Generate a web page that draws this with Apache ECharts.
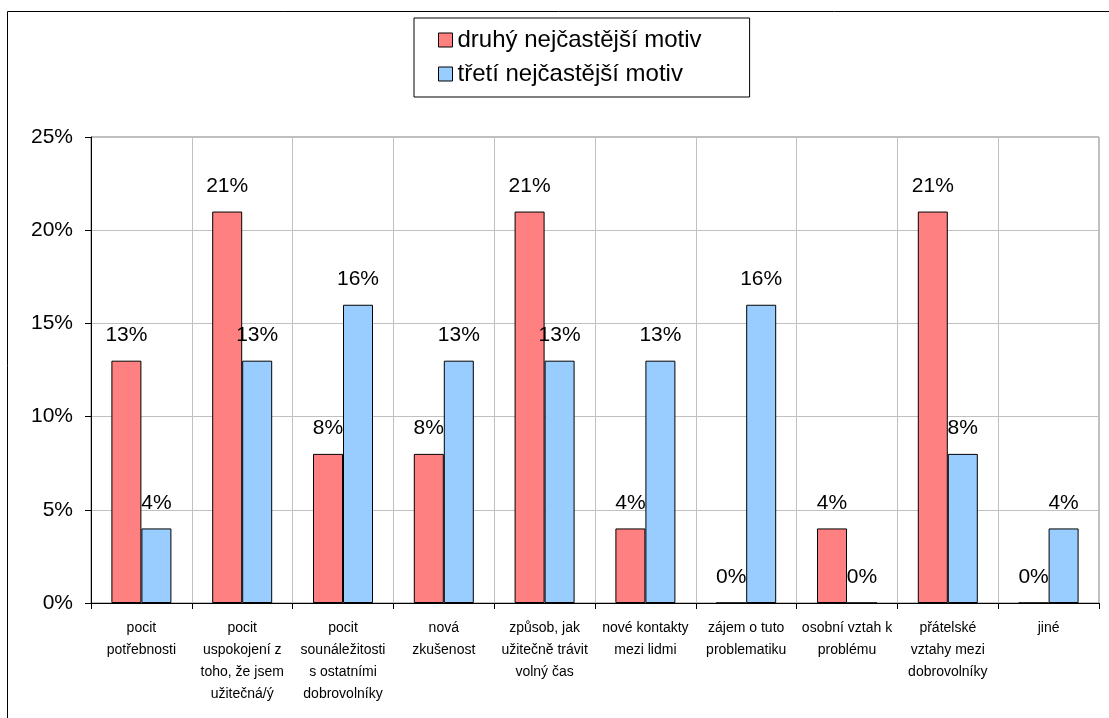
<!DOCTYPE html>
<html>
<head>
<meta charset="utf-8">
<script src="https://cdn.jsdelivr.net/npm/echarts@6/dist/echarts.min.js"></script>
<style>
  html, body { margin: 0; padding: 0; background: #fff; }
  #chart { width: 1109px; height: 718px; }
</style>
</head>
<body>
<div id="chart"></div>
<script>
// Motives for volunteering: second and third most frequent motive (percent)
const categories = [
  'pocit\npotřebnosti',
  'pocit\nuspokojení z\ntoho, že jsem\nužitečná/ý',
  'pocit\nsounáležitosti\ns ostatními\ndobrovolníky',
  'nová\nzkušenost',
  'způsob, jak\nužitečně trávit\nvolný čas',
  'nové kontakty\nmezi lidmi',
  'zájem o tuto\nproblematiku',
  'osobní vztah k\nproblému',
  'přátelské\nvztahy mezi\ndobrovolníky',
  'jiné'
];
const secondMotive = [13, 21, 8, 8, 21, 4, 0, 4, 21, 0];
const thirdMotive = [4, 13, 16, 13, 13, 13, 16, 0, 8, 4];
const seriesNames = ['druhý nejčastější motiv', 'třetí nejčastější motiv'];

const FONT = 'Liberation Sans, Arial, sans-serif';
const chart = echarts.init(document.getElementById('chart'), null, { renderer: 'canvas' });

const valueLabel = {
  show: true,
  position: 'top',
  distance: 15,
  formatter: p => p.value + '%',
  fontFamily: FONT,
  fontSize: 21,
  color: '#000'
};

chart.setOption({
  animation: false,
  backgroundColor: '#fff',
  graphic: [{
    type: 'rect',
    shape: { x: 7.5, y: 11.5, width: 1200, height: 800 },
    style: { fill: 'none', stroke: '#000', lineWidth: 1 },
    silent: true,
    z: -1
  }],
  legend: {
    orient: 'vertical',
    left: 414,
    top: 18,
    padding: [10, 48, 11, 24],
    itemWidth: 14,
    itemHeight: 14,
    itemGap: 10,
    borderColor: '#000',
    borderWidth: 1,
    icon: 'rect',
    itemStyle: { borderColor: '#000', borderWidth: 1 },
    textStyle: { fontFamily: FONT, fontSize: 24, lineHeight: 24, color: '#000' },
    data: seriesNames
  },
  grid: {
    left: 91,
    top: 137,
    right: 10,
    bottom: 115,
    show: true,
    borderColor: '#808080',
    borderWidth: 1
  },
  xAxis: {
    type: 'category',
    data: categories,
    boundaryGap: true,
    axisLine: { lineStyle: { color: '#000', width: 1 } },
    axisTick: { show: true, length: 6, inside: false, lineStyle: { color: '#000' } },
    splitLine: { show: true, lineStyle: { color: '#c0c0c0', width: 1 } },
    axisLabel: {
      interval: 0,
      margin: 14,
      fontFamily: FONT,
      fontSize: 14,
      lineHeight: 22,
      color: '#000',
      align: 'center'
    }
  },
  yAxis: {
    type: 'value',
    min: 0,
    max: 25,
    interval: 5,
    axisLine: { show: true, lineStyle: { color: '#000', width: 1 } },
    axisTick: { show: true, length: 6, lineStyle: { color: '#000' } },
    splitLine: { show: true, lineStyle: { color: '#c0c0c0', width: 1 } },
    axisLabel: {
      formatter: '{value}%',
      fontFamily: FONT,
      fontSize: 21,
      color: '#000',
      margin: 18
    }
  },
  series: [
    {
      name: seriesNames[0],
      type: 'bar',
      data: secondMotive,
      barWidth: 30,
      barGap: '0%',
      itemStyle: { color: '#FF8080', borderColor: '#000', borderWidth: 1 },
      label: valueLabel
    },
    {
      name: seriesNames[1],
      type: 'bar',
      data: thirdMotive,
      barWidth: 30,
      barGap: '0%',
      itemStyle: { color: '#99CCFF', borderColor: '#000', borderWidth: 1 },
      label: valueLabel
    }
  ]
});
</script>
</body>
</html>
